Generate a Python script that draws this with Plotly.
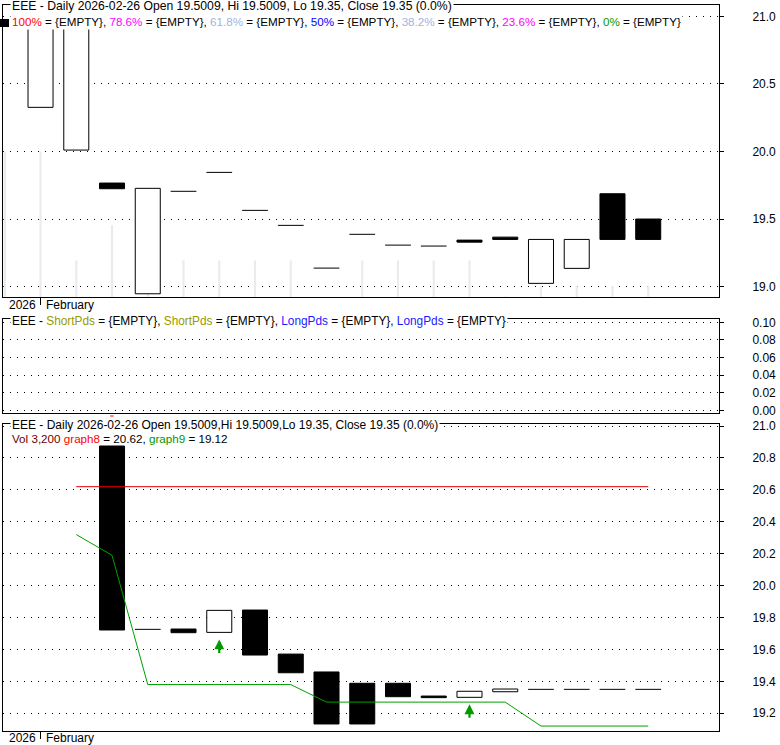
import plotly.graph_objects as go

# ---------------- data ----------------
DATES = ["2026-01-30", "2026-02-02", "2026-02-03", "2026-02-04", "2026-02-05", "2026-02-06",
         "2026-02-09", "2026-02-10", "2026-02-11", "2026-02-12", "2026-02-13",
         "2026-02-17", "2026-02-18", "2026-02-19", "2026-02-20",
         "2026-02-23", "2026-02-24", "2026-02-25", "2026-02-26"]

PRICE_OPEN = [None, 20.327, 20.011, 19.767, 18.948, 19.706, 19.846, 19.565, 19.454, 19.138,
              19.388, 19.308, 19.301, 19.345, 19.367, 19.025, 19.136, 19.688, 19.5009]
PRICE_CLOSE = [None, 21.15, 21.15, 19.725, 19.728, 19.706, 19.846, 19.565, 19.454, 19.138,
               19.388, 19.308, 19.301, 19.330, 19.35, 19.35, 19.35, 19.35, 19.35]
VOLUME = [41300, 41300, 10400, 20500, 15000, 10400, 10400, 10400, 10400, 0,
          10400, 10400, 10400, 10400, 200, 3200, 3200, 3200, 3200]

LOWER_OPEN = [None, None, None, 20.875, 19.726, 19.728, 19.707, 19.847, 19.571, 19.459,
              19.388, 19.388, 19.308, 19.300, 19.335, 19.35, 19.35, 19.35, 19.35]
LOWER_CLOSE = [None, None, None, 19.722, 19.726, 19.705, 19.845, 19.565, 19.454, 19.133,
               19.133, 19.304, 19.298, 19.338, 19.352, 19.35, 19.35, 19.35, 19.35]
GRAPH8 = [None, None] + [20.62] * 17
GRAPH9 = [None, None, 20.32, 20.19, 19.38, 19.38, 19.38, 19.38, 19.38, 19.27,
          19.27, 19.27, 19.27, 19.27, 19.27, 19.12, 19.12, 19.12, 19.12]
BUY_SIGNALS = ["2026-02-09", "2026-02-19"]
EVENT_DATES = ["2026-02-04"]
MONTH_START = "2026-02-02"
YEAR_LABEL, MONTH_LABEL = "2026", "February"

PRICE_TICKS = [19.0, 19.5, 20.0, 20.5, 21.0]
IND_TICKS = [0.00, 0.02, 0.04, 0.06, 0.08, 0.10]
LOWER_TICKS = [19.2, 19.4, 19.6, 19.8, 20.0, 20.2, 20.4, 20.6, 20.8, 21.0]

FIB_LEVELS = ["100%", "78.6%", "61.8%", "50%", "38.2%", "23.6%", "0%"]
FIB_COLORS = ["#ff0000", "#ff00ff", "#9fb3dc", "#0000ff", "#9fb3dc", "#ff00ff", "#009900"]

POS = list(range(len(DATES)))
pos_of = {d: i for i, d in enumerate(DATES)}

# ---------------- layout geometry (pixels) ----------------
W, H = 780, 745
FONT = "Liberation Sans, Arial, sans-serif"
def px(x): return x / W
def py(y): return 1 - y / H

X_DOM = [px(3), px(719)]
TOP_DOM = [py(297.3), py(5)]
MID_DOM = [py(413), py(319.3)]
BOT_DOM = [py(731), py(423.5)]
XRANGE = [-0.05, 19.98]

fig = go.Figure()

def add_candles(opens, closes, xa, ya, halfw=0.36):
    bx, bb, bh, bc = [], [], [], []
    lx, ly = [], []
    for p, o, c in zip(POS, opens, closes):
        if o is None or c is None:
            continue
        if o == c:
            lx += [p - halfw, p + halfw, None]
            ly += [o, o, None]
        else:
            bx.append(p)
            bb.append(min(o, c))
            bh.append(abs(c - o))
            bc.append("white" if c > o else "black")
    fig.add_trace(go.Bar(x=bx, y=bh, base=bb, width=0.7, xaxis=xa, yaxis=ya,
                         marker=dict(color=bc, line=dict(color="black", width=1)),
                         hoverinfo="skip"))
    fig.add_trace(go.Scatter(x=lx, y=ly, mode="lines", xaxis=xa, yaxis=ya,
                             line=dict(color="black", width=1), hoverinfo="skip"))

# top panel: volume (behind) then candles
fig.add_trace(go.Bar(x=POS, y=VOLUME, width=0.06, xaxis="x", yaxis="y",
                     marker=dict(color="#ebebeb", line=dict(width=0)), hoverinfo="skip"))
add_candles(PRICE_OPEN, PRICE_CLOSE, "x", "y2")

# middle panel (empty indicator)
fig.add_trace(go.Scatter(x=[], y=[], xaxis="x2", yaxis="y3"))

# bottom panel: lines then candles
fig.add_trace(go.Scatter(x=POS, y=GRAPH8, mode="lines", xaxis="x3", yaxis="y4",
                         line=dict(color="#e00000", width=1), hoverinfo="skip"))
fig.add_trace(go.Scatter(x=POS, y=GRAPH9, mode="lines", xaxis="x3", yaxis="y4",
                         line=dict(color="#00a000", width=1), hoverinfo="skip"))
add_candles(LOWER_OPEN, LOWER_CLOSE, "x3", "y4")

annotations = []
# buy arrows
for d in BUY_SIGNALS:
    p = pos_of[d]
    low = min(LOWER_OPEN[p], LOWER_CLOSE[p])
    annotations.append(dict(x=p, y=low, xref="x3", yref="y4", text="", showarrow=True,
                            arrowhead=2, arrowsize=0.9, arrowwidth=2.2, arrowcolor="#009900",
                            ax=0, ay=22, standoff=7))

# legends
def span(t, c): return f'<span style="color:{c}">{t}</span>'

def lfont(size): return dict(family=FONT, size=size, color="black")
top1 = "EEE - Daily 2026-02-26 Open 19.5009, Hi 19.5009, Lo 19.35, Close 19.35 (0.0%)"
top2 = ", ".join(f"{span(l, c)} = {{EMPTY}}" for l, c in zip(FIB_LEVELS, FIB_COLORS))
mid1 = ("EEE - " + span("ShortPds", "#999900") + " = {EMPTY}, " + span("ShortPds", "#999900")
        + " = {EMPTY}, " + span("LongPds", "#1a1aff") + " = {EMPTY}, "
        + span("LongPds", "#1a1aff") + " = {EMPTY}")
bot1 = "EEE - Daily 2026-02-26 Open 19.5009,Hi 19.5009,Lo 19.35, Close 19.35 (0.0%)"
bot2 = (span("Vol 3,200", "#6e0000") + " " + span("graph8", "#ff0000") + " = 20.62, "
        + span("graph9", "#009900") + " = 19.12")

for txt, yc, bg, fs in [(top1, 6.5, "white", 12.2), (top2, 21.5, "white", 11.65),
                        (mid1, 321, "white", 11.85), (bot1, 424.7, "white", 12),
                        (bot2, 438.5, "rgba(0,0,0,0)", 11.65)]:
    annotations.append(dict(x=px(10), y=py(yc), xref="paper", yref="paper", text=txt,
                            showarrow=False, xanchor="left", yanchor="middle",
                            font=lfont(fs), bgcolor=bg, borderpad=1))

# date labels
mp = pos_of[MONTH_START]
for xa, yc in [("x", 304.5), ("x3", 738)]:
    annotations.append(dict(x=mp, y=py(yc), xref=xa, yref="paper", text=YEAR_LABEL,
                            showarrow=False, xanchor="right", yanchor="middle",
                            xshift=-3, font=lfont(12), borderpad=1))
    annotations.append(dict(x=mp, y=py(yc), xref=xa, yref="paper", text=MONTH_LABEL,
                            showarrow=False, xanchor="left", yanchor="middle",
                            xshift=3, font=lfont(12), borderpad=1))

shapes = [dict(type="rect", xref="paper", yref="paper", x0=0, x1=px(9), y0=py(27), y1=py(19),
               fillcolor="black", line=dict(width=0))]
for d in EVENT_DATES:
    p = pos_of[d]
    shapes.append(dict(type="rect", xref="x3", yref="paper", x0=p - 0.05, x1=p + 0.04,
                       y0=py(418), y1=py(415.5), fillcolor="#ff0000", line=dict(width=0)))

axis_common = dict(showline=True, linecolor="black", linewidth=1, mirror=True, zeroline=False,
                   automargin=False)
ygrid = dict(showgrid=True, gridcolor="black", gridwidth=1, griddash="1px,6px",
             ticks="outside", ticklen=4, tickcolor="black", side="right",
             ticklabelstandoff=26, tickfont=dict(family=FONT, size=12, color="black"))
xcommon = dict(domain=X_DOM, range=XRANGE, showgrid=False, showticklabels=False,
               fixedrange=True, **axis_common)

fig.update_layout(
    width=W, height=H, margin=dict(l=0, r=0, t=0, b=0, pad=0, autoexpand=False),
    paper_bgcolor="white", plot_bgcolor="white", showlegend=False, barmode="overlay",
    hovermode=False,
    xaxis=dict(anchor="y", ticks="outside", ticklen=7, tickcolor="black",
               tickvals=[mp], **xcommon),
    yaxis=dict(domain=TOP_DOM, anchor="x", range=[0, 82800], visible=False, fixedrange=True,
               automargin=False),
    yaxis2=dict(domain=TOP_DOM, anchor="x", overlaying="y", range=[18.922, 21.084],
                tickvals=PRICE_TICKS, tickformat=".1f", **ygrid, **axis_common),
    xaxis2=dict(anchor="y3", ticks="", **xcommon),
    yaxis3=dict(domain=MID_DOM, anchor="x2", range=[-0.0028, 0.1034],
                tickvals=IND_TICKS, tickformat=".2f", **ygrid, **axis_common),
    xaxis3=dict(anchor="y4", ticks="outside", ticklen=7, tickcolor="black",
                tickvals=[mp], **xcommon),
    yaxis4=dict(domain=BOT_DOM, anchor="x3", range=[19.089, 21.016],
                tickvals=LOWER_TICKS, tickformat=".1f", **ygrid, **axis_common),
    annotations=annotations, shapes=shapes,
)

fig.write_html(
    "out.html",
    config={"displayModeBar": False, "staticPlot": True},
    post_script="document.body.style.margin='0';document.documentElement.style.overflow='hidden';",
)
